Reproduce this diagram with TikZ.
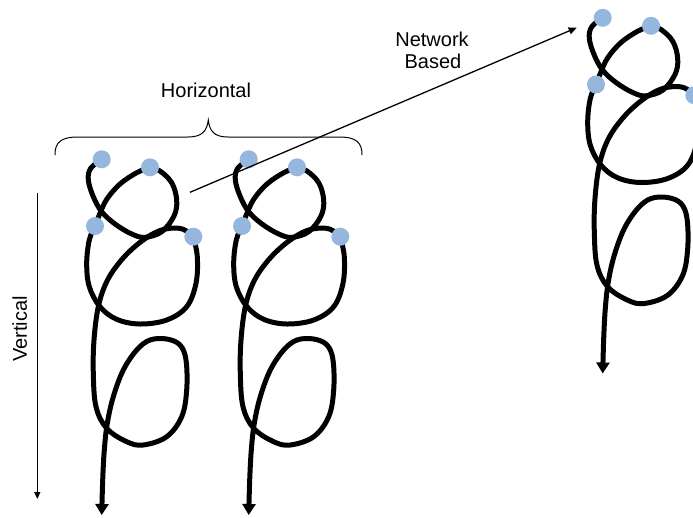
\documentclass[tikz,border=0pt]{standalone}
\usepackage{fontspec}
\setmainfont{Liberation Sans}
\usetikzlibrary{arrows.meta}
\definecolor{dotblue}{RGB}{149,183,222}
\tikzset{
  strand/.style={line width=5pt, line cap=round, line join=round},
  knot/.style={circle, fill=dotblue, draw=none, minimum size=18pt, inner sep=0pt},
  thinarrow/.style={line width=1.3pt, -{Triangle[width=7pt,length=8pt]}},
  txt/.style={font=\fontsize{20}{24}\selectfont, inner sep=0pt, anchor=base},
  bracestyle/.style={line width=1pt}
}
\newcommand{\chainstrand}[2]{%
\begin{scope}[shift={#1}]
  \draw[strand] plot[smooth, tension=0.6] coordinates {(101.7,159.3) (90.7,168.3) (88.3,180) (93.3,196.7) (101.7,211.7) (115,224) (131.7,234) (145,237.3) (161.7,231.7) (174,216) (176.7,200) (171.7,182.7) (160,171) (150,167.3)};
  \draw[strand] plot[smooth, tension=0.6] coordinates {(150,167.3) (136.7,172.7) (120,184) (106.7,199.3) (99.3,215) (95,226)};
  \draw[strand] plot[smooth, tension=0.6] coordinates {(95,226) (89.3,240) (86.7,263.3) (89.3,286.7) (100,306.7) (116.7,319.3) (140,324) (166.7,320) (186.7,306.7) (196,283.3) (197.3,256.7) (193.3,236.7)};
  \draw[strand, -{Triangle[width=13pt,length=11pt]}] plot[smooth, tension=0.6] coordinates {(193.3,236.7) (183.3,229.3) (170,228.3) (155,232.7) (136.7,245) (120,261.7) (106.7,281.7) (98.3,306.7) (94,340) (93.3,373.3) (96,406.7) (106.7,428.3) (126.7,441.7) (143.3,445) (166.7,436.7) (181.7,416.7) (186.7,390) (186,360) (180,345) (166.7,339) (150,340) (136.7,350) (123.3,370) (113.3,396.7) (107.3,423.3) (104.3,450) (102.7,480) (101.7,515)};
  \node[knot] (#2a) at (101.7,159.3) {};
  \node[knot] (#2b) at (150,167.3) {};
  \node[knot] (#2c) at (95,226) {};
  \node[knot] (#2d) at (193.3,236.7) {};
\end{scope}}
\begin{document}
\begin{tikzpicture}[x=1pt, y=-1pt]
  \useasboundingbox (0,0) rectangle (693,517);
  \clip (0,0) rectangle (693,517);
  % chains
  \chainstrand{(0,0)}{p}
  \chainstrand{(147,0)}{q}
  \chainstrand{(501,-141.5)}{r}
  % brace
  \draw[bracestyle] (55,155) .. controls (55,143) and (60,137) .. (78,137) -- (188,137)
     .. controls (202,137) and (207,131) .. (208.3,120)
     .. controls (209.6,131) and (214,137) .. (228,137) -- (339,137)
     .. controls (357,137) and (362,143) .. (362,155);
  % labels
  \node[txt] (horiz) at (206,97.7) {Horizontal};
  \node[txt] (net1) at (432,46.7) {Network};
  \node[txt] (net2) at (433,68) {Based};
  \node[txt, rotate=90] (vert) at (27,329) {Vertical};
  % arrows
  \coordinate (ns) at (190,192.3);
  \coordinate (ne) at (576.7,27.7);
  \draw[thinarrow] (ns) -- (ne);
  \coordinate (vs) at (37.3,193);
  \coordinate (ve) at (37.3,499);
  \draw[line width=1.3pt, -{Triangle[width=6pt,length=7pt]}] (vs) -- (ve);
\end{tikzpicture}
\end{document}
